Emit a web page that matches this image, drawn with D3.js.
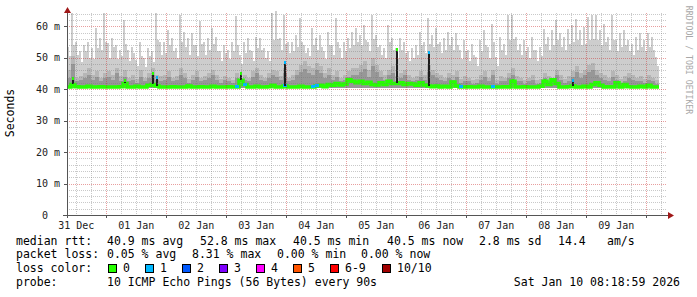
<!DOCTYPE html>
<html>
<head>
<meta charset="utf-8">
<script src="https://cdnjs.cloudflare.com/ajax/libs/d3/7.8.5/d3.min.js"></script>
<style>
body { margin: 0; background: #fff; }
svg { display: block; }
text { font-family: "DejaVu Sans Mono", monospace; white-space: pre; }
</style>
</head>
<body>
<script>
// data (ms), one value per 96 min column, starting at the left edge of the graph
// maxRtt : highest ping, hautRtt : usual top of the light smoke in the same column
var maxRtt = [53.5,64.1,55.1,52.0,54.1,55.1,53.0,59.4,56.2,64.1,54.6,56.2,54.1,52.5,62.0,52.5,53.5,49.3,55.1,49.8,53.0,52.0,64.1,55.1,
	55.1,58.8,56.2,53.0,63.6,58.3,56.2,57.8,54.1,61.5,55.1,56.2,59.4,56.7,52.0,54.1,52.5,55.1,63.1,50.9,55.1,56.2,52.0,56.7,
	56.2,53.0,52.0,64.1,64.7,56.2,63.6,55.1,55.1,57.3,62.5,54.1,53.0,59.4,56.2,57.3,52.0,58.3,54.1,62.5,53.0,55.1,56.2,58.3,
	59.4,57.3,60.4,55.1,63.6,57.3,54.1,53.0,60.4,56.2,53.0,56.2,55.1,52.0,53.0,54.1,58.3,55.1,62.5,57.3,59.4,55.1,56.2,58.3,
	56.5,58.0,52.4,55.6,52.4,54.5,50.3,55.6,58.7,53.5,60.8,50.3,56.6,54.5,63.5,63.5,56.6,54.5,55.6,53.5,56.6,52.4,53.5,59.2,
	56.6,58.7,61.9,57.7,56.6,59.2,60.3,62.4,58.7,59.8,62.9,63.5,63.5,58.7,60.8,56.6,63.5,55.6,57.7,58.7,55.6,54.5,56.6,57.7,
	55.6,57.7,56.6,50.3];

var hautRtt = [50.5,54.0,51.0,48.5,52.0,50.0,49.5,53.0,52.5,55.0,50.0,53.5,49.5,50.5,54.5,49.0,51.5,47.5,50.5,47.0,50.5,48.5,55.5,51.0,
	51.5,54.0,52.0,50.0,55.0,53.5,51.0,54.0,50.5,54.5,51.0,52.5,54.5,52.0,49.0,51.5,49.5,52.0,54.0,48.0,51.5,52.5,49.0,53.0,
	52.5,50.0,49.0,55.5,56.0,52.5,54.5,51.5,52.0,53.5,55.0,51.5,50.5,54.0,52.5,53.5,49.5,54.0,51.0,55.0,50.0,52.0,53.0,54.0,
	55.0,54.0,55.5,52.0,56.0,53.5,51.0,50.0,55.0,52.5,50.0,52.5,51.5,49.0,50.0,51.0,54.0,51.5,54.5,53.5,54.5,51.5,52.5,54.0,
	52.5,54.0,49.5,52.0,49.0,51.0,47.5,52.0,54.0,50.0,55.0,47.5,52.5,51.0,55.5,56.0,52.5,51.0,52.0,50.0,52.5,49.0,50.5,54.5,
	52.5,54.0,55.5,53.5,52.5,54.5,55.0,55.5,54.0,54.5,55.5,56.0,55.5,54.0,55.0,52.5,55.5,52.0,53.5,54.0,52.0,51.0,52.5,53.5,
	52.0,53.5,52.5,47.5];

var p9Rtt = [46.2,50.5,43.6,44.1,45.1,46.7,44.6,45.7,43.6,45.1,45.7,44.6,46.7,44.1,46.2,43.6,44.6,43.2,46.2,43.6,45.1,46.7,44.6,44.1,
	44.6,45.7,43.6,44.1,46.7,45.1,43.2,44.6,45.7,43.6,44.1,45.1,46.2,44.6,43.2,44.1,43.6,42.8,45.1,43.2,44.6,43.6,45.7,46.7,
	44.6,43.6,45.1,46.2,45.7,44.1,46.7,43.6,44.6,46.2,47.7,48.8,47.2,46.7,48.3,47.2,45.1,46.7,44.6,45.7,43.6,44.6,45.7,46.7,
	46.7,47.7,48.8,46.2,49.9,47.7,45.7,44.6,46.2,47.2,44.1,45.1,46.2,44.6,43.6,44.1,45.7,44.6,47.7,46.2,45.1,44.6,43.6,45.1,
	44.6,45.7,43.2,44.1,43.6,42.8,43.2,44.6,45.7,43.6,46.2,42.8,44.1,43.6,45.1,46.7,44.1,43.6,42.8,43.6,44.6,42.8,43.2,45.1,
	44.1,43.6,46.2,44.6,43.2,44.1,45.7,47.2,45.1,46.2,47.7,48.3,46.2,45.1,44.6,43.6,45.7,44.6,43.2,44.1,45.1,44.6,43.6,44.1,
	43.2,44.6,43.6,42.8];

var p8Rtt = [43.5,48.0,42.5,43.0,43.5,44.5,43.0,44.0,42.5,43.5,44.0,43.0,45.0,42.5,44.0,42.5,43.0,42.0,44.0,42.5,43.5,44.5,43.0,42.5,
	43.0,44.0,42.5,43.0,44.5,43.5,42.0,43.0,44.0,42.5,43.0,43.5,44.5,43.0,42.0,43.0,42.5,42.0,43.5,42.0,43.0,42.5,44.0,45.0,
	43.0,42.5,43.5,44.5,44.0,43.0,45.0,42.5,43.0,44.5,45.5,46.5,45.0,44.5,46.0,45.0,43.5,44.5,43.0,44.0,42.5,43.0,44.0,44.5,
	44.5,45.5,46.5,44.0,47.5,45.5,44.0,43.0,44.5,45.0,42.5,43.5,44.5,43.0,42.5,43.0,44.0,43.0,45.5,44.5,43.5,43.0,42.5,43.5,
	43.0,44.0,42.0,42.5,42.5,41.5,42.0,43.0,44.0,42.5,44.5,41.5,42.5,42.5,43.5,44.5,42.5,42.5,41.5,42.5,43.0,41.5,42.0,43.5,
	42.5,42.5,44.5,43.0,42.0,42.5,44.0,45.5,43.5,44.5,45.5,46.0,44.5,43.5,43.0,42.5,44.0,43.0,42.0,42.5,43.5,43.0,42.5,42.5,
	42.0,43.0,42.5,41.5];

var medianRtt = [40.7,41.5,40.8,40.7,40.7,40.9,40.7,40.7,40.8,40.7,40.7,40.7,
	40.7,40.8,41.8,40.7,40.7,40.9,40.7,40.7,41.2,41.5,41.0,40.7,
	40.7,40.7,40.8,40.7,40.7,40.7,41.0,40.7,40.7,40.8,40.7,40.7,
	40.9,40.7,40.7,40.7,40.8,40.7,40.7,42.8,41.5,40.7,40.7,40.9,
	40.7,40.7,40.8,41.2,40.7,40.7,41.0,40.7,40.7,40.7,40.9,40.7,
	40.7,40.7,41.0,41.2,40.8,41.5,41.2,41.8,41.3,41.6,43.0,42.5,
	42.0,42.5,41.8,42.2,41.5,41.3,42.0,41.5,42.5,41.8,41.8,42.0,
	41.5,41.8,41.6,41.2,42.0,41.3,41.0,40.8,41.0,40.7,40.9,40.7,
	42.3,41.0,40.7,40.7,40.8,40.7,40.7,40.9,40.7,40.7,40.7,40.7,
	40.7,40.8,40.7,42.5,40.7,40.7,40.8,40.7,40.7,40.7,40.9,42.5,
	41.5,43.0,41.8,40.7,40.7,40.8,41.0,40.7,40.7,40.9,40.7,41.5,
	42.0,41.2,40.7,40.8,40.7,42.0,40.7,41.5,40.8,40.7,40.7,40.9,
	40.7,41.2,40.7,40.7];

var minRtt = 40.3;

// [column, loss index]
var lossCols = [[42,1],[44,1],[54,1],[61,1],[62,1],[98,1],[106,1]];

// tall samples : [column, top (ms), loss index]
var spikes = [[1,43.5,0],[14,43.0,0],[21,45.0,0],[22,44.0,1],[43,45.0,0],[54,48.5,1],[82,52.8,0],[90,51.7,1],
	[111,43.0,0],[119,42.8,0],[121,43.0,0],[126,43.0,1]];

var lossLabels = ["0","1","2","3","4","5","6-9","10/10"];
var lossColors = ["#26ff00","#00b8ff","#0059ff","#7e00ff","#ff00ff","#ff5500","#ff0000","#a10000"];

var yTicks = [0,10,20,30,40,50,60];
var rttStats = ["40.9 ms avg","52.8 ms max","40.5 ms min","40.5 ms now","2.8 ms sd","14.4","am/s"];
var lossStats = ["0.05 % avg","8.31 % max","0.00 % min","0.00 % now"];
var probeText = "10 ICMP Echo Pings (56 Bytes) every 90s";
var stamp = "Sat Jan 10 08:18:59 2026";

//Variables générales
var w = 697;
var h = 297;
var gauche = 67, droite = 667, haut = 13, bas = 215;
var debut = new Date(2025, 11, 31, 8, 18, 59);
var fin = new Date(2026, 0, 10, 8, 18, 59);
var pasCol = 96;

var x = d3.scaleTime().domain([debut, fin]).range([gauche, droite]);
var y = d3.scaleLinear().domain([0, 64.2]).range([bas, haut]);

function tCol(i) { return d3.timeMinute.offset(debut, i * pasCol); }
function xCol(i) { return x(tCol(i)); }

var svg = d3.select("body")
	.append("svg")
	.attr("width", w)
	.attr("height", h)
	.style("background", "#fff")

//La fumée : d'abord la partie claire (max en pointe, puis le reste de la colonne)
var clair = svg.append("g").attr("shape-rendering", "crispEdges").style("fill", "#cdcdcd");
clair.selectAll(".pointe")
	.data(maxRtt)
	.enter()
	.append("rect")
	.attr("x", function(d, i) { return xCol(i); })
	.attr("width", function(d, i) { return (xCol(i + 1) - xCol(i)) / 2; })
	.attr("y", function(d) { return y(d); })
	.attr("height", function(d) { return y(minRtt) - y(d); })
clair.selectAll(".reste")
	.data(hautRtt)
	.enter()
	.append("rect")
	.attr("x", function(d, i) { return (xCol(i) + xCol(i + 1)) / 2; })
	.attr("width", function(d, i) { return (xCol(i + 1) - xCol(i)) / 2; })
	.attr("y", function(d) { return y(d); })
	.attr("height", function(d) { return y(minRtt) - y(d); })

var bandes = [
	{ vals: p9Rtt, color: "#b6b6b6" },
	{ vals: p8Rtt, color: "#979797" }
];

bandes.forEach(function(b) {
	svg.append("g")
		.attr("shape-rendering", "crispEdges")
		.selectAll("rect")
		.data(b.vals)
		.enter()
		.append("rect")
		.attr("x", function(d, i) { return xCol(i); })
		.attr("width", function(d, i) { return xCol(i + 1) - xCol(i); })
		.attr("y", function(d) { return y(d); })
		.attr("height", function(d) { return y(minRtt) - y(d); })
		.style("fill", b.color)
});

//Ligne médiane
var pts = medianRtt.map(function(v, i) { return { t: tCol(i), v: v }; });
pts.push({ t: tCol(medianRtt.length), v: medianRtt[medianRtt.length - 1] });

var ligne = d3.line()
	.x(function(d) { return x(d.t); })
	.y(function(d) { return y(d.v); })
	.curve(d3.curveStepAfter);

svg.append("path")
	.datum(pts)
	.attr("d", ligne)
	.style("fill", "none")
	.style("stroke", lossColors[0])
	.style("stroke-width", 3.5)

svg.append("g")
	.attr("shape-rendering", "crispEdges")
	.selectAll("rect")
	.data(lossCols)
	.enter()
	.append("rect")
	.attr("x", function(d) { return xCol(d[0]); })
	.attr("width", function(d) { return xCol(d[0] + 1) - xCol(d[0]); })
	.attr("y", function(d) { return y(medianRtt[d[0]]) - 1.5; })
	.attr("height", 3)
	.style("fill", function(d) { return lossColors[d[1]]; })

var pics = svg.append("g").attr("shape-rendering", "crispEdges");
pics.selectAll(".pic")
	.data(spikes)
	.enter()
	.append("rect")
	.attr("x", function(d) { return xCol(d[0]) + 1; })
	.attr("width", 2)
	.attr("y", function(d) { return y(d[1]); })
	.attr("height", function(d) { return y(medianRtt[d[0]]) - y(d[1]); })
	.style("fill", "#1c1c1c")
pics.selectAll(".dot")
	.data(spikes)
	.enter()
	.append("rect")
	.attr("x", function(d) { return xCol(d[0]) + 1; })
	.attr("width", 2)
	.attr("y", function(d) { return y(d[1]) - 1; })
	.attr("height", 3)
	.style("fill", function(d) { return lossColors[d[2]]; })

//Grille (transparente, par dessus la fumée)
var grille = svg.append("g").attr("shape-rendering", "crispEdges");
var gMin = "rgba(120,120,120,0.4)";
var gMaj = "rgba(205,40,40,0.45)";
var minorT = d3.timeHour.every(6).range(debut, fin).filter(function(t) { return t.getHours() != 0; });
var majorT = d3.timeDay.range(debut, fin);
var minorY = d3.range(2, 65, 2).filter(function(v) { return v % 10 != 0; });
var majorY = yTicks.filter(function(v) { return v > 0; });

grille.selectAll(".vmin").data(minorT).enter().append("line")
	.attr("x1", function(d) { return Math.round(x(d)) + 0.5; })
	.attr("x2", function(d) { return Math.round(x(d)) + 0.5; })
	.attr("y1", haut).attr("y2", bas)
	.style("stroke", gMin).style("stroke-dasharray", "1,1")
grille.selectAll(".hmin").data(minorY).enter().append("line")
	.attr("x1", gauche).attr("x2", droite)
	.attr("y1", function(d) { return Math.round(y(d)) + 0.5; })
	.attr("y2", function(d) { return Math.round(y(d)) + 0.5; })
	.style("stroke", gMin).style("stroke-dasharray", "1,1")
grille.selectAll(".vmaj").data(majorT).enter().append("line")
	.attr("x1", function(d) { return Math.round(x(d)) + 0.5; })
	.attr("x2", function(d) { return Math.round(x(d)) + 0.5; })
	.attr("y1", haut).attr("y2", bas)
	.style("stroke", gMaj).style("stroke-dasharray", "1,1")
grille.selectAll(".hmaj").data(majorY).enter().append("line")
	.attr("x1", gauche).attr("x2", droite)
	.attr("y1", function(d) { return Math.round(y(d)) + 0.5; })
	.attr("y2", function(d) { return Math.round(y(d)) + 0.5; })
	.style("stroke", gMaj).style("stroke-dasharray", "1,1")

//Axes
var axes = svg.append("g").attr("shape-rendering", "crispEdges");
axes.append("line").attr("x1", gauche + 0.5).attr("x2", gauche + 0.5).attr("y1", 9).attr("y2", bas + 3)
	.style("stroke", "#555")
axes.append("line").attr("x1", gauche - 4).attr("x2", droite + 4).attr("y1", bas + 0.5).attr("y2", bas + 0.5)
	.style("stroke", "#555")
axes.selectAll(".ty").data(yTicks).enter().append("line")
	.attr("x1", gauche - 3).attr("x2", gauche)
	.attr("y1", function(d) { return Math.round(y(d)) + 0.5; })
	.attr("y2", function(d) { return Math.round(y(d)) + 0.5; })
	.style("stroke", "#555")
axes.selectAll(".tx").data(majorT).enter().append("line")
	.attr("x1", function(d) { return Math.round(x(d)) + 0.5; })
	.attr("x2", function(d) { return Math.round(x(d)) + 0.5; })
	.attr("y1", bas).attr("y2", bas + 3)
	.style("stroke", "#555")

svg.append("path")
	.attr("d", "M" + (gauche - 3) + "," + (haut) + "L" + (gauche + 0.5) + "," + (haut - 6) + "L" + (gauche + 4) + "," + haut + "Z")
	.style("fill", "#a01818")
svg.append("path")
	.attr("d", "M" + (droite + 1) + "," + (bas - 3) + "L" + (droite + 7) + "," + (bas + 0.5) + "L" + (droite + 1) + "," + (bas + 4) + "Z")
	.style("fill", "#a01818")

//Libellés
svg.selectAll(".ly").data(yTicks).enter().append("text")
	.text(function(d) { return d == 0 ? "0  " : d + " m"; })
	.attr("x", 60)
	.attr("y", function(d) { return y(d) + 3.5; })
	.attr("text-anchor", "end")
	.style("font-size", "10px")
	.style("fill", "#222")

var jours = d3.timeDay.range(d3.timeDay.floor(debut), fin)
	.map(function(d) { return d3.timeHour.offset(d, 12); })
	.filter(function(d) { return d < fin; });
svg.selectAll(".lx").data(jours).enter().append("text")
	.text(d3.timeFormat("%d %b"))
	.attr("x", function(d) { return x(d); })
	.attr("y", 229)
	.attr("text-anchor", "middle")
	.style("font-size", "10px")
	.style("fill", "#222")

svg.append("text")
	.text("Seconds")
	.attr("transform", "translate(14,113) rotate(-90)")
	.attr("text-anchor", "middle")
	.style("font-size", "11.5px")

svg.append("text")
	.text("RRDTOOL / TOBI OETIKER")
	.attr("transform", "translate(686,60) rotate(90)")
	.attr("text-anchor", "middle")
	.style("font-size", "8.2px")
	.style("fill", "#a8a8a8")

//Légende
var legende = svg.append("g").style("font-size", "11.5px").style("fill", "#000");
var rttX = [107, 200, 293, 387, 479, 558, 607];
var lossX = [107, 192, 277, 361];

legende.append("text").text("median rtt:").attr("x", 16).attr("y", 245)
legende.selectAll(".rtt").data(rttStats).enter().append("text")
	.text(function(d) { return d; })
	.attr("x", function(d, i) { return rttX[i]; })
	.attr("y", 245)

legende.append("text").text("packet loss:").attr("x", 16).attr("y", 258)
legende.selectAll(".loss").data(lossStats).enter().append("text")
	.text(function(d) { return d; })
	.attr("x", function(d, i) { return lossX[i]; })
	.attr("y", 258)

legende.append("text").text("loss color:").attr("x", 16).attr("y", 272)
var boxX = [108, 145, 182, 219, 256, 293, 330, 382];
legende.selectAll(".box").data(lossLabels).enter().append("rect")
	.attr("x", function(d, i) { return boxX[i] + 0.5; })
	.attr("y", 264.5)
	.attr("width", 8)
	.attr("height", 8)
	.style("fill", function(d, i) { return lossColors[i]; })
	.style("stroke", "#000")
	.style("stroke-width", 1)
legende.selectAll(".boxt").data(lossLabels).enter().append("text")
	.text(function(d) { return d; })
	.attr("x", function(d, i) { return boxX[i] + 15; })
	.attr("y", 272)

legende.append("text").text("probe:").attr("x", 16).attr("y", 286)
legende.append("text").text(probeText).attr("x", 107).attr("y", 286)
legende.append("text").text(stamp).attr("x", 680).attr("y", 286).attr("text-anchor", "end")
</script>
</body>
</html>
